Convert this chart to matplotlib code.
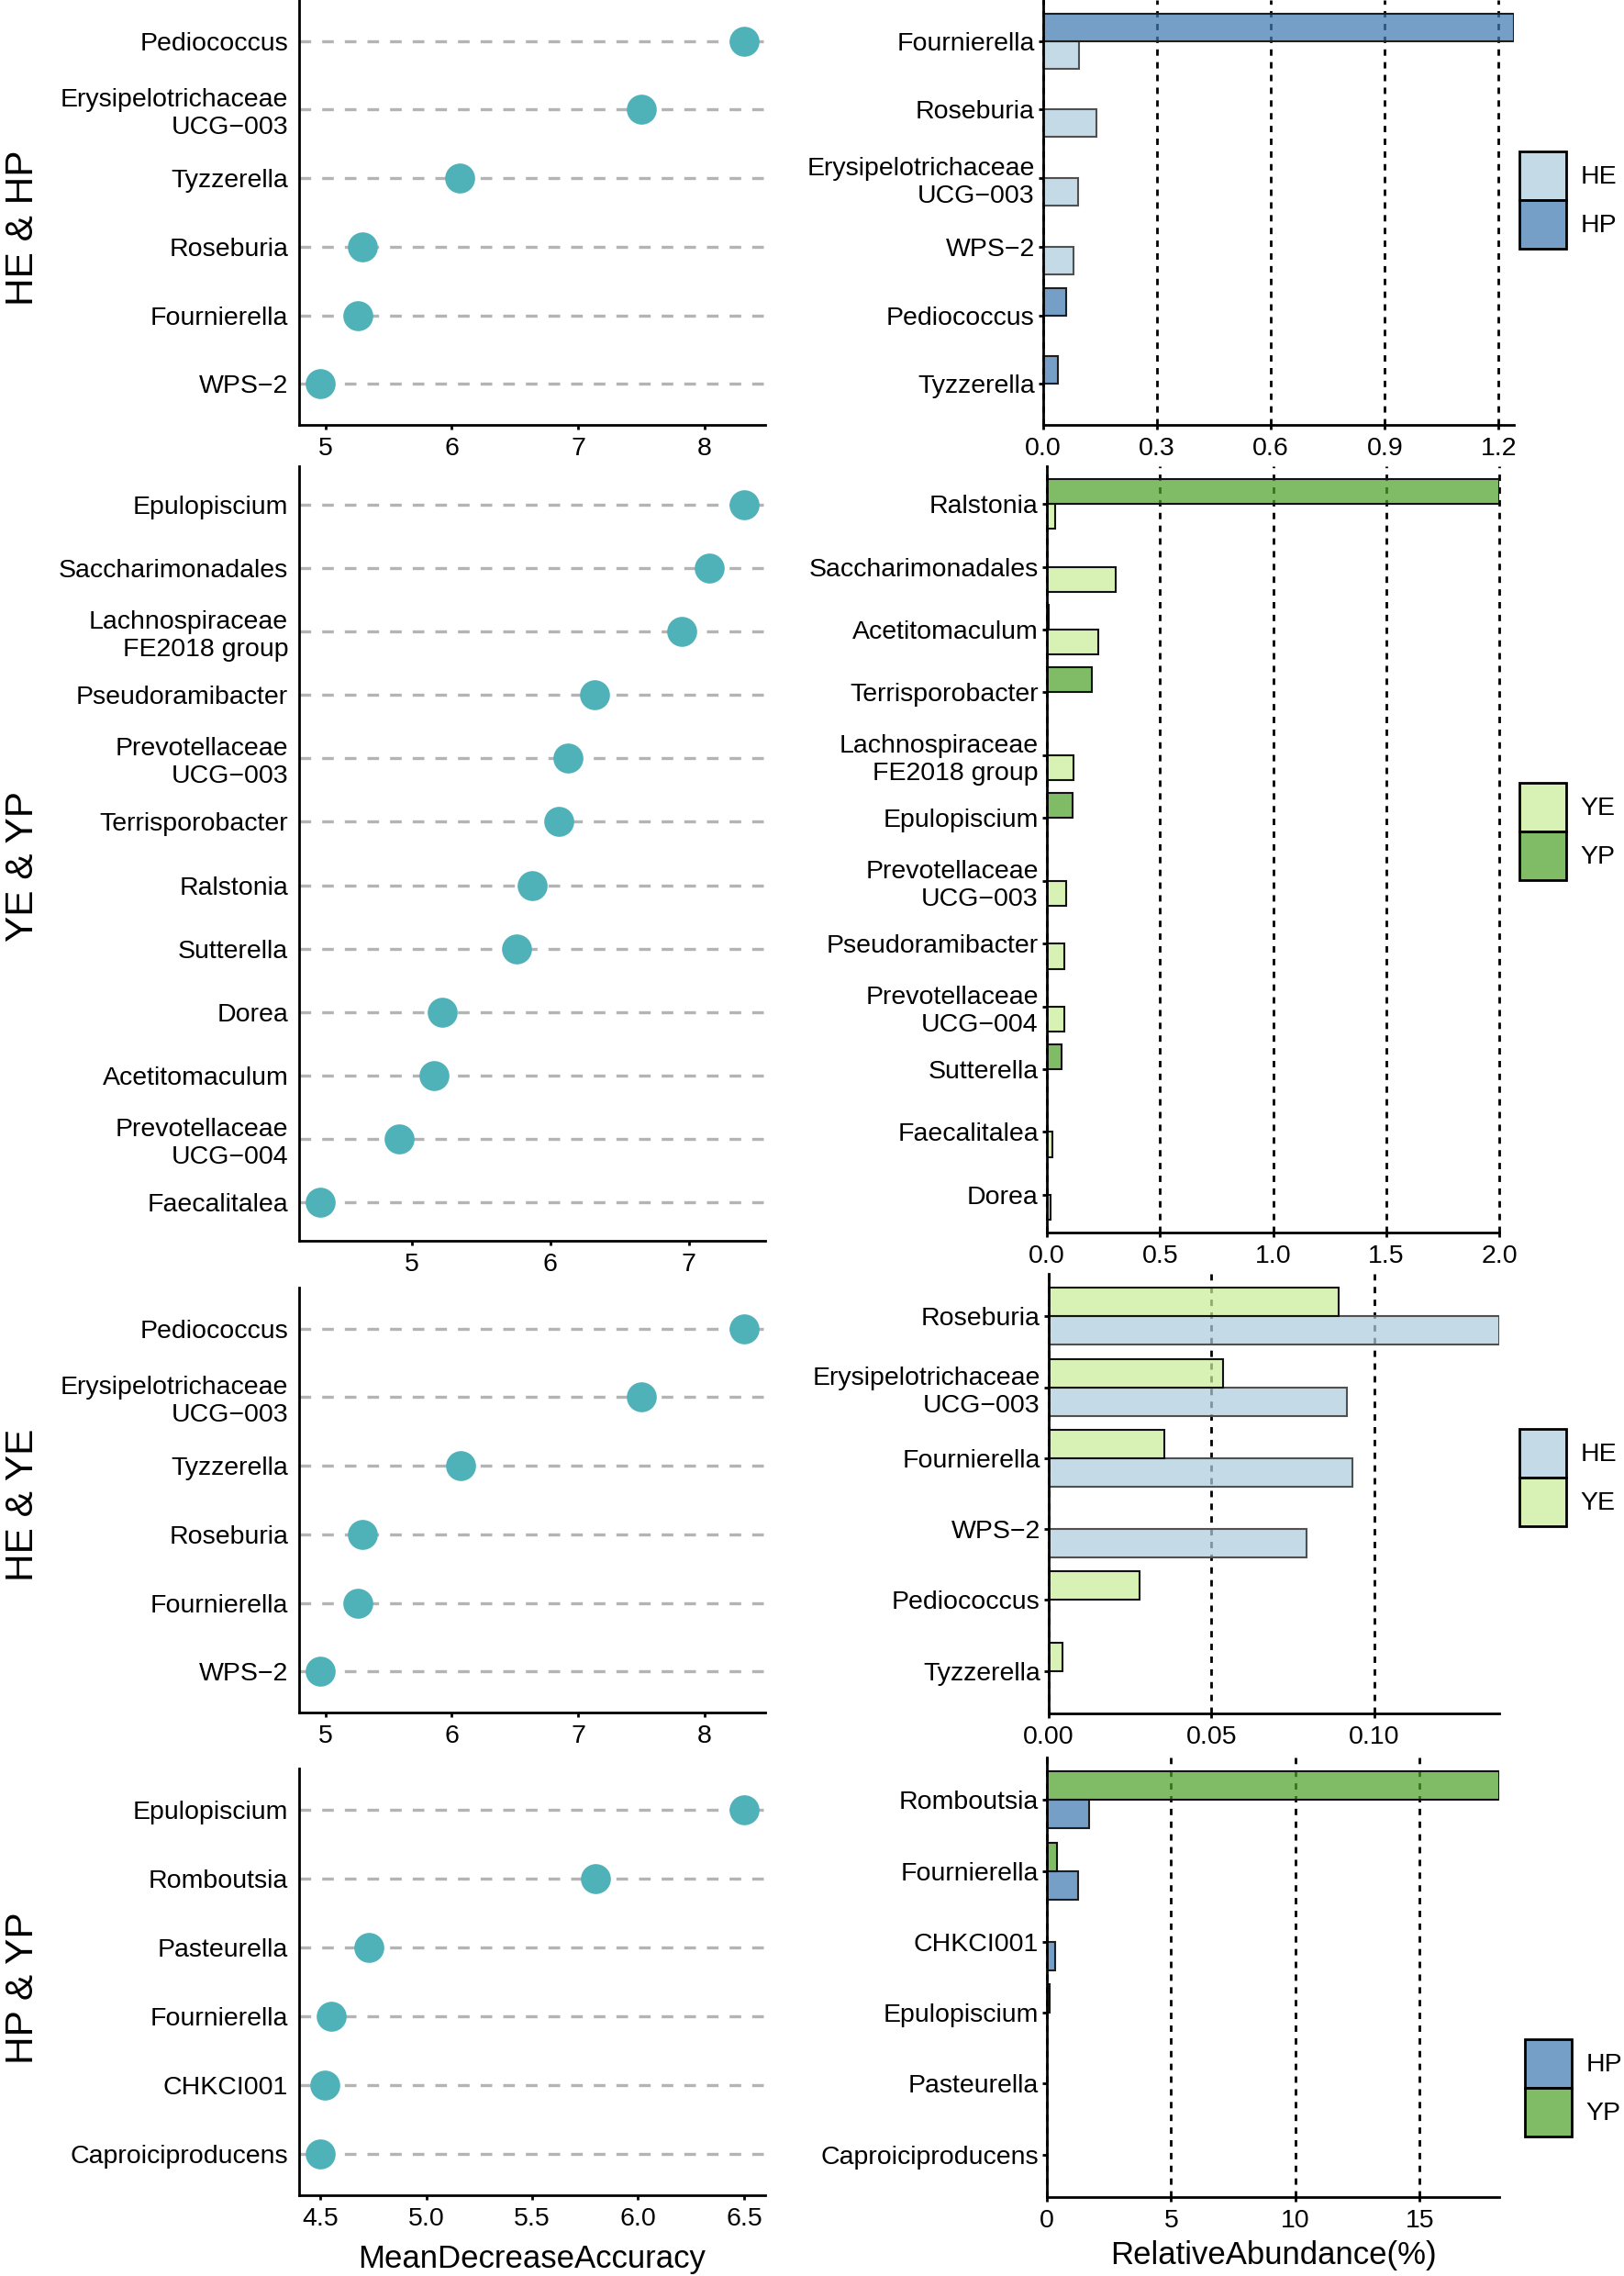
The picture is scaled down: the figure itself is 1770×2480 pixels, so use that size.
import matplotlib
matplotlib.use("Agg")
import matplotlib.pyplot as plt
from matplotlib.patches import Patch
from matplotlib.colors import to_rgba
from matplotlib import transforms
import numpy as np

plt.rcParams['font.family'] = ['Liberation Sans', 'DejaVu Sans']

# ---------------- data ----------------
M = "\u2212"  # minus sign as rendered in the original

# Panel 1: HE & HP
p1_label = "HE & HP"
p1_dot_taxa = ["Pediococcus", "Erysipelotrichaceae\nUCG" + M + "003", "Tyzzerella",
               "Roseburia", "Fournierella", "WPS" + M + "2"]
p1_dot_mda = [8.31, 7.50, 6.06, 5.29, 5.26, 4.96]
p1_dot_ticks = [5, 6, 7, 8]
p1_bar_taxa = ["Fournierella", "Roseburia", "Erysipelotrichaceae\nUCG" + M + "003",
               "WPS" + M + "2", "Pediococcus", "Tyzzerella"]
p1_groups = ["HE", "HP"]
p1_HE = [0.095, 0.139, 0.091, 0.080, 0.0, 0.0]
p1_HP = [1.240, 0.0, 0.0, 0.0, 0.060, 0.038]
p1_bar_ticks = [0.0, 0.3, 0.6, 0.9, 1.2]
p1_bar_ticklabels = ["0.0", "0.3", "0.6", "0.9", "1.2"]

# Panel 2: YE & YP
p2_label = "YE & YP"
p2_dot_taxa = ["Epulopiscium", "Saccharimonadales", "Lachnospiraceae\nFE2018 group",
               "Pseudoramibacter", "Prevotellaceae\nUCG" + M + "003", "Terrisporobacter",
               "Ralstonia", "Sutterella", "Dorea", "Acetitomaculum",
               "Prevotellaceae\nUCG" + M + "004", "Faecalitalea"]
p2_dot_mda = [7.40, 7.15, 6.95, 6.32, 6.13, 6.06, 5.87, 5.76, 5.22, 5.16, 4.91, 4.34]
p2_dot_ticks = [5, 6, 7]
p2_bar_taxa = ["Ralstonia", "Saccharimonadales", "Acetitomaculum", "Terrisporobacter",
               "Lachnospiraceae\nFE2018 group", "Epulopiscium",
               "Prevotellaceae\nUCG" + M + "003", "Pseudoramibacter",
               "Prevotellaceae\nUCG" + M + "004", "Sutterella", "Faecalitalea", "Dorea"]
p2_groups = ["YE", "YP"]
p2_YE = [0.038, 0.303, 0.227, 0.0, 0.119, 0.0, 0.084, 0.076, 0.076, 0.0, 0.026, 0.017]
p2_YP = [2.000, 0.0, 0.010, 0.198, 0.0, 0.112, 0.0, 0.0, 0.0, 0.064, 0.0, 0.0]
p2_bar_ticks = [0.0, 0.5, 1.0, 1.5, 2.0]
p2_bar_ticklabels = ["0.0", "0.5", "1.0", "1.5", "2.0"]

# Panel 3: HE & YE
p3_label = "HE & YE"
p3_dot_taxa = ["Pediococcus", "Erysipelotrichaceae\nUCG" + M + "003", "Tyzzerella",
               "Roseburia", "Fournierella", "WPS" + M + "2"]
p3_dot_mda = [8.31, 7.50, 6.07, 5.29, 5.26, 4.96]
p3_dot_ticks = [5, 6, 7, 8]
p3_bar_taxa = ["Roseburia", "Erysipelotrichaceae\nUCG" + M + "003", "Fournierella",
               "WPS" + M + "2", "Pediococcus", "Tyzzerella"]
p3_groups = ["HE", "YE"]
p3_HE = [0.1385, 0.0917, 0.0934, 0.0794, 0.0, 0.0]
p3_YE = [0.0890, 0.0536, 0.0355, 0.0, 0.0280, 0.0043]
p3_bar_ticks = [0.00, 0.05, 0.10]
p3_bar_ticklabels = ["0.00", "0.05", "0.10"]

# Panel 4: HP & YP
p4_label = "HP & YP"
p4_dot_taxa = ["Epulopiscium", "Romboutsia", "Pasteurella", "Fournierella",
               "CHKCI001", "Caproiciproducens"]
p4_dot_mda = [6.50, 5.80, 4.73, 4.55, 4.52, 4.50]
p4_dot_ticks = [4.5, 5.0, 5.5, 6.0, 6.5]
p4_dot_ticklabels = ["4.5", "5.0", "5.5", "6.0", "6.5"]
p4_bar_taxa = ["Romboutsia", "Fournierella", "CHKCI001", "Epulopiscium",
               "Pasteurella", "Caproiciproducens"]
p4_groups = ["HP", "YP"]
p4_HP = [1.71, 1.24, 0.33, 0.0, 0.0, 0.0]
p4_YP = [18.2, 0.41, 0.0, 0.10, 0.0, 0.0]
p4_bar_ticks = [0, 5, 10, 15]
p4_bar_ticklabels = ["0", "5", "10", "15"]

x_title_left = "MeanDecreaseAccuracy"
x_title_right = "RelativeAbundance(%)"

# ---------------- style ----------------
W, H, DPI = 1770, 2480, 100
BAR_ALPHA = 0.72
group_face = {"HE": "#AECEDF", "HP": "#407AB2", "YE": "#CAEC97", "YP": "#4FA22B"}
group_edge = {"HE": "#505050", "HP": "#1E1E1E", "YE": "#111111", "YP": "#111111"}
DOT_COLOR = "#4EB2B8"
GRID_GREY = "#B4B4B4"
TICK_FS = 20.5
SPINE_LW = 2.0

fig = plt.figure(figsize=(W / DPI, H / DPI), dpi=DPI)


def rect_px(x0, y0, x1, y1):
    return [x0 / W, 1 - y1 / H, (x1 - x0) / W, (y1 - y0) / H]


def style_axes(ax):
    for s in ("top", "right"):
        ax.spines[s].set_visible(False)
    for s in ("left", "bottom"):
        ax.spines[s].set_linewidth(SPINE_LW)
        ax.spines[s].set_color("black")
    ax.tick_params(axis="x", length=3.6, width=SPINE_LW, pad=6, labelsize=TICK_FS,
                   color="black", labelcolor="black")


def dot_panel(rect, taxa, vals, ticks, ticklabels=None):
    ax = fig.add_axes(rect)
    n = len(taxa)
    ypos = np.arange(n)[::-1]
    for y in ypos:
        ax.axhline(y, color=GRID_GREY, lw=2.4, ls=(0, (3.8, 3.6)), zorder=1)
    ax.plot(vals, ypos, "o", ms=23.5, color=DOT_COLOR, mec="none", zorder=3,
            clip_on=False)
    lo, hi = min(vals), max(vals)
    pad = 0.05 * (hi - lo)
    ax.set_xlim(lo - pad, hi + pad)
    ax.set_ylim(-0.6, n - 0.4)
    ax.set_yticks(ypos)
    ax.set_yticklabels(taxa, fontsize=TICK_FS)
    ax.set_xticks(ticks)
    ax.set_xticklabels(ticklabels if ticklabels else [str(t) for t in ticks])
    style_axes(ax)
    ax.tick_params(axis="y", length=0, pad=8.5, labelsize=TICK_FS)
    return ax


def bar_panel(rect, taxa, groups, lower, upper, ticks, ticklabels, legend_px):
    ax = fig.add_axes(rect)
    n = len(taxa)
    ypos = np.arange(n)[::-1]
    g_lo, g_hi = groups
    ax.barh(ypos - 0.2, lower, height=0.4, color=to_rgba(group_face[g_lo], BAR_ALPHA),
            edgecolor=group_edge[g_lo], lw=1.5, zorder=2)
    ax.barh(ypos + 0.2, upper, height=0.4, color=to_rgba(group_face[g_hi], BAR_ALPHA),
            edgecolor=group_edge[g_hi], lw=1.5, zorder=2)
    ax.set_xlim(0, max(max(lower), max(upper)))
    ax.set_ylim(-0.6, n - 0.4)
    ax.set_yticks(ypos)
    ax.set_yticklabels(taxa, fontsize=TICK_FS)
    ax.set_xticks(ticks)
    ax.set_xticklabels(ticklabels)
    ax.set_axisbelow(True)
    ax.grid(axis="x", color="black", lw=2.0, ls=(0, (2.5, 2.5)))
    for gl in ax.get_xgridlines():
        gl.set_clip_on(False)
    style_axes(ax)
    ax.tick_params(axis="y", length=3.6, width=SPINE_LW, pad=3, labelsize=TICK_FS)
    handles = [Patch(facecolor=to_rgba(group_face[g], BAR_ALPHA), edgecolor="black",
                     lw=2.0, label=g) for g in groups]
    fig.legend(handles=handles, loc="upper left",
               bbox_to_anchor=(legend_px[0] / W, 1 - legend_px[1] / H),
               frameon=False, borderpad=0, borderaxespad=0, fontsize=TICK_FS,
               handlelength=1.79, handleheight=2.49, labelspacing=0,
               handletextpad=0.55)
    return ax


# Panel 1
a1l = dot_panel(rect_px(326, 0, 834, 463), p1_dot_taxa, p1_dot_mda, p1_dot_ticks)
a1r = bar_panel(rect_px(1137, 0, 1650, 463), p1_bar_taxa, p1_groups, p1_HE, p1_HP,
                p1_bar_ticks, p1_bar_ticklabels, (1656, 165))
# Panel 2
a2l = dot_panel(rect_px(326, 508, 834, 1352), p2_dot_taxa, p2_dot_mda, p2_dot_ticks)
a2r = bar_panel(rect_px(1141, 508, 1634, 1343), p2_bar_taxa, p2_groups, p2_YE, p2_YP,
                p2_bar_ticks, p2_bar_ticklabels, (1656, 853))
# Panel 3
a3l = dot_panel(rect_px(326, 1403, 834, 1866), p3_dot_taxa, p3_dot_mda, p3_dot_ticks)
a3r = bar_panel(rect_px(1143, 1388, 1634, 1867), p3_bar_taxa, p3_groups, p3_HE, p3_YE,
                p3_bar_ticks, p3_bar_ticklabels, (1656, 1557))
# Panel 4
a4l = dot_panel(rect_px(326, 1927, 834, 2392), p4_dot_taxa, p4_dot_mda, p4_dot_ticks,
                p4_dot_ticklabels)
a4r = bar_panel(rect_px(1141, 1915, 1634, 2394), p4_bar_taxa, p4_groups, p4_HP, p4_YP,
                p4_bar_ticks, p4_bar_ticklabels, (1662, 2222))

# axis titles
for a, txt, yc in ((a4l, x_title_left, 2462), (a4r, x_title_right, 2457)):
    a.set_xlabel(txt, fontsize=25)
    a.xaxis.set_label_coords(
        0.5, 1 - yc / H,
        transform=transforms.blended_transform_factory(a.transAxes, fig.transFigure))
    a.xaxis.label.set_va("center")

# row labels
for lab, yc in ((p1_label, 248), (p2_label, 944), (p3_label, 1640), (p4_label, 2166)):
    fig.text(25 / W, 1 - yc / H, lab, rotation=90, ha="center", va="center",
             fontsize=30.5)

fig.savefig("out.png", dpi=DPI)
